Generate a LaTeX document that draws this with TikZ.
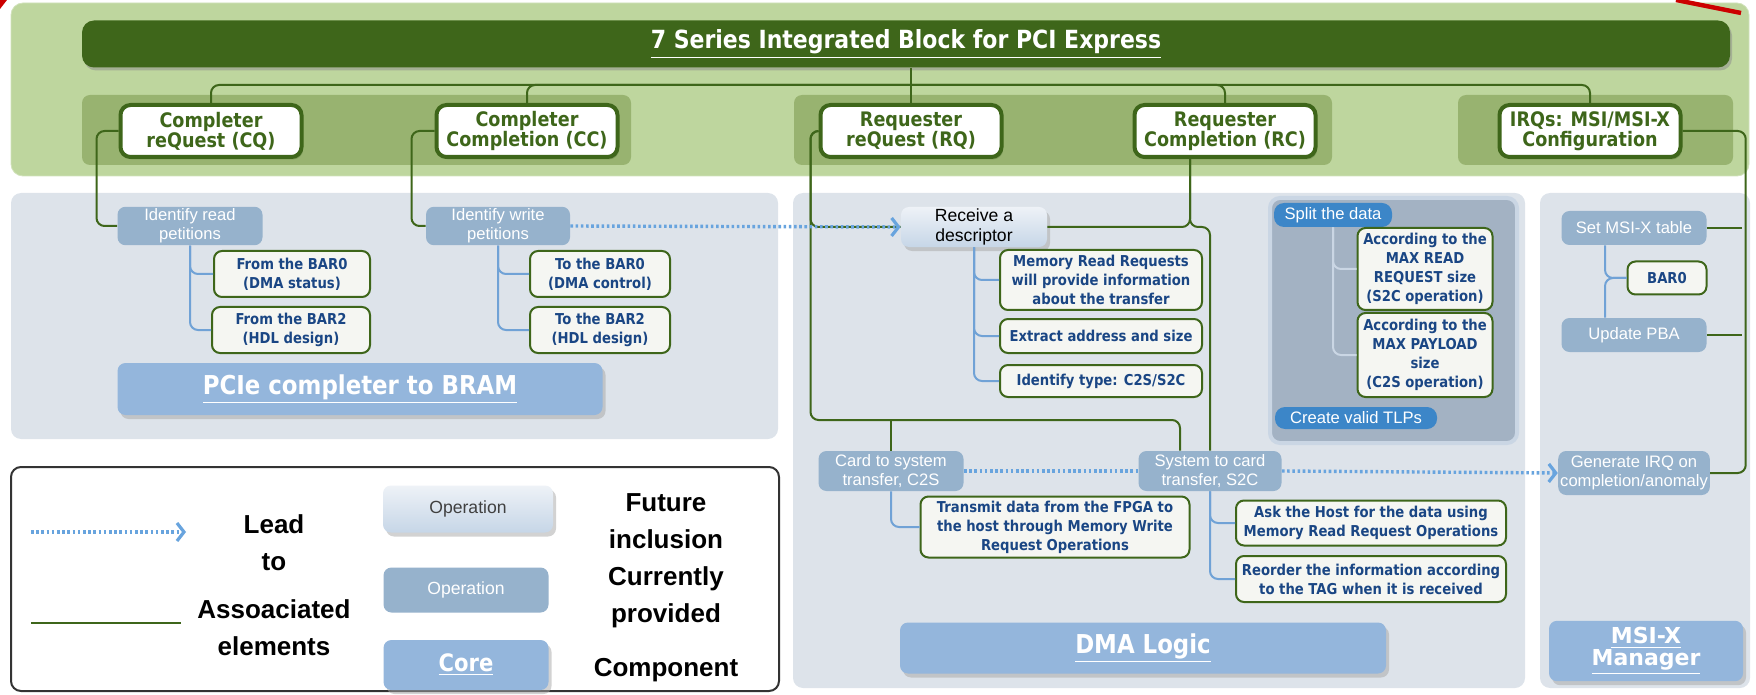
\documentclass[tikz,border=0pt]{standalone}
\usepackage{fontspec}
\setmainfont{Liberation Sans}
\newfontfamily\vfont[FakeStretch=0.88]{DejaVu Sans}
\newfontfamily\wfont{DejaVu Sans}
\usetikzlibrary{arrows.meta,shadows}

\definecolor{bandgreen}{RGB}{190,214,158}
\definecolor{subgreen}{RGB}{152,179,112}
\definecolor{dkgreen}{RGB}{62,102,26}
\definecolor{panelgray}{RGB}{221,227,234}
\definecolor{opblue}{RGB}{150,178,204}
\definecolor{coreblue}{RGB}{148,182,220}
\definecolor{txtblue}{RGB}{26,70,132}
\definecolor{lnblue}{RGB}{112,162,214}
\definecolor{dotblue}{RGB}{104,164,222}
\definecolor{splitbg}{RGB}{163,178,195}
\definecolor{splitbd}{RGB}{202,214,228}
\definecolor{tlpblue}{RGB}{60,134,200}
\definecolor{futtop}{RGB}{238,242,247}
\definecolor{futbot}{RGB}{198,214,231}
\definecolor{boxwhite}{RGB}{245,246,242}

\tikzset{
  gline/.style={draw=dkgreen,line width=1pt,rounded corners=4pt},
  bline/.style={draw=lnblue,line width=1pt,rounded corners=4pt},
  sline/.style={draw=splitbd,line width=1pt,rounded corners=4pt},
  leadto/.style={draw=dotblue,line width=1.7pt,dash pattern=on 1.3pt off 1.3pt,
    -{Straight Barb[length=3.5pt,width=9pt,line width=1.6pt]}},
  titlebar/.style={fill=dkgreen,rounded corners=6pt,text=white,
    minimum width=824pt,minimum height=23.5pt,
    font=\vfont\bfseries\fontsize{12.5}{13}\selectfont,
    drop shadow={shadow xshift=1pt,shadow yshift=-1.5pt,fill=black!45}},
  topbox/.style={draw=dkgreen,line width=2pt,fill=white,rounded corners=5pt,
    align=center,inner sep=1pt,text=dkgreen,
    font=\vfont\bfseries\fontsize{10}{10}\selectfont,
    minimum width=90.5pt,minimum height=26pt,
    drop shadow={shadow xshift=0.8pt,shadow yshift=-1.2pt,fill=dkgreen!80}},
  opbox/.style={fill=opblue,rounded corners=4pt,text=white,align=center,
    inner sep=1pt,font=\fontsize{8.3}{9.5}\selectfont},
  futbox/.style={top color=futtop,bottom color=futbot,rounded corners=4pt,
    align=center,inner sep=1pt,font=\fontsize{8.8}{9.8}\selectfont,
    drop shadow={shadow xshift=1.5pt,shadow yshift=-2pt,fill=black!35}},
  txtbox/.style={draw=dkgreen,line width=1pt,fill=boxwhite,rounded corners=4pt,
    text=txtblue,align=center,inner sep=1pt,
    font=\vfont\bfseries\fontsize{7.5}{9.5}\selectfont},
  corebox/.style={fill=coreblue,rounded corners=4pt,text=white,align=center,
    font=\vfont\bfseries\fontsize{13}{13}\selectfont,
    drop shadow={shadow xshift=1.5pt,shadow yshift=-2pt,fill=black!35}},
  lgtext/.style={align=center,font=\bfseries\fontsize{13}{18.5}\selectfont},
}

\begin{document}
\begin{tikzpicture}[x=0.5pt,y=-0.5pt]
  \useasboundingbox (0,0) rectangle (1756,695);
  %%% PCIe block
  % the band
  \draw[fill=bandgreen,draw=bandgreen!70!white,rounded corners=6pt] (11,3) rectangle (1749,176);
  \foreach \xa/\xb in {82/631,794/1332,1458/1733}
    \fill[subgreen,rounded corners=4pt] (\xa,95) rectangle (\xb,165);
  \node[titlebar] (title) at (906,44) {\underline{7 Series Integrated Block for PCI Express}};
  %% the interfaces
  \node[topbox] (cq) at (211,131) {Completer\\reQuest (CQ)};
  \node[topbox] (cc) at (527,131) {Completer\\Completion (CC)};
  \node[topbox] (rq) at (911,131) {Requester\\reQuest (RQ)};
  \node[topbox] (rc) at (1225,131) {Requester\\Completion (RC)};
  \node[topbox] (irq) at (1590,131) {IRQs: MSI/MSI-X\\Configuration};

  %%% the panels
  \foreach \xa/\ya/\xb/\yb in {11/193/778/439,793/193/1525/688,1540/193/1750/688}
    \fill[panelgray,rounded corners=5pt] (\xa,\ya) rectangle (\xb,\yb);
  \draw[fill=white,draw=black!80,line width=1pt,rounded corners=5pt] (11,467) rectangle (779,691);
  \draw[fill=splitbg,draw=splitbd,line width=2pt,rounded corners=5pt] (1270,198) rectangle (1517,443);

  %% completer to BRAM
  \node[opbox,minimum width=72.5pt,minimum height=19pt] (rdop) at (190,226) {Identify read\\petitions};
  \node[opbox,minimum width=72pt,minimum height=19pt] (wrop) at (498,226) {Identify write\\petitions};
  \node[txtbox,minimum width=78pt,minimum height=23pt] (bar0r) at (292,274) {From the BAR0\\(DMA status)};
  \node[txtbox,minimum width=79pt,minimum height=23pt] (bar2r) at (291,330) {From the BAR2\\(HDL design)};
  \node[txtbox,minimum width=70pt,minimum height=23pt] (to0) at (600,274) {To the BAR0\\(DMA control)};
  \node[txtbox,minimum width=70pt,minimum height=23pt] (to2) at (600,330) {To the BAR2\\(HDL design)};
  \node[corebox,minimum width=242.5pt,minimum height=26pt] (bram) at (360,389) {\underline{PCIe completer to BRAM}};

  %% DMA logic
  \node[futbox,minimum width=73pt,minimum height=20pt] (rcv) at (974,227) {Receive a\\descriptor};
  \node[txtbox,minimum width=101pt,minimum height=30pt] (mrr) at (1101,280) {Memory Read Requests\\will provide information\\about the transfer};
  \node[txtbox,minimum width=101pt,minimum height=17pt] (ext) at (1101,336) {Extract address and size};
  \node[txtbox,minimum width=101pt,minimum height=16pt] (idt) at (1101,381) {Identify type: C2S/S2C};
  \node[opbox,fill=tlpblue,rounded corners=5pt,minimum width=59pt,minimum height=12pt] (split) at (1333,215) {Split the data};
  \node[txtbox,minimum width=67.5pt,minimum height=41pt] (rdsz) at (1425,269) {According to the\\MAX READ\\REQUEST size\\(S2C operation)};
  \node[txtbox,minimum width=67.5pt,minimum height=42pt] (plsz) at (1425,355) {According to the\\MAX PAYLOAD\\size\\(C2S operation)};
  \node[opbox,fill=tlpblue,rounded corners=5pt,minimum width=81pt,minimum height=11pt] (tlp) at (1356,418) {Create valid TLPs};
  \node[opbox,minimum width=72.5pt,minimum height=20pt] (c2s) at (891,471) {Card to system\\transfer, C2S};
  \node[opbox,minimum width=71.5pt,minimum height=20pt] (s2c) at (1210,471) {System to card\\transfer, S2C};
  \node[txtbox,minimum width=134.5pt,minimum height=30.5pt] (tx) at (1055,527) {Transmit data from the FPGA to\\the host through Memory Write\\Request Operations};
  \node[txtbox,minimum width=135pt,minimum height=22.5pt] (ask) at (1371,523) {Ask the Host for the data using\\Memory Read Request Operations};
  \node[txtbox,minimum width=135pt,minimum height=23pt] (ro) at (1371,579) {Reorder the information according\\to the TAG when it is received};
  \node[corebox,minimum width=243pt,minimum height=25.5pt] (dma) at (1143,648) {\underline{DMA Logic}};

  %% MSI-X manager
  \node[opbox,minimum width=72.5pt,minimum height=17pt] (set) at (1634,228) {Set MSI-X table};
  \node[txtbox,minimum width=39.5pt,minimum height=16.5pt] (bar0m) at (1667,278) {BAR0};
  \node[opbox,minimum width=72.5pt,minimum height=17pt] (pba) at (1634,335) {Update PBA};
  \node[opbox,minimum width=72.5pt,minimum height=22pt] (gen) at (1634,473) {Generate IRQ on\\completion/anomaly};
  \node[corebox,font=\wfont\bfseries\fontsize{11}{11}\selectfont,minimum width=97pt,minimum height=29pt] (msix) at (1646,651) {\underline{MSI-X}\\\underline{Manager}};

  %%% connectors
  % green tree of the block
  \coordinate (bus) at (907,85);
  \draw[gline] (title.south -| rq.north) -- (rq.north);
  \draw[gline] (cq.north) |- (bus) -| (irq.north);
  \draw[gline] (cc.north) |- (bus);
  \draw[gline] (rc.north) |- (bus);
  \draw[gline] (cq.west) -- ++(-22,0) |- (rdop.west);
  \draw[gline] (cc.west) -- ++(-23,0) |- (wrop.west);
  \coordinate (rqend) at (1180,420);
  \draw[gline] (rq.west) -- ++(-8,0) |- (rcv.west);
  \draw[gline] (rq.west) -- ++(-8,0) |- (rqend) -- (rqend |- s2c.north);
  \draw[gline] (c2s.north) -- (c2s.north |- rqend);
  \draw[gline] ([xshift=-17.5pt]rc.south) |- (rcv.east);
  \draw[gline] ([xshift=-17.5pt]rc.south) |- (s2c.north |- rcv.east) -- (s2c.north);
  \draw[gline] (irq.east) -| ([xshift=17.75pt]gen.east) -- (gen.east);
  \draw[gline] (set.east) -- ([xshift=17.75pt]set.east);
  \draw[gline] (pba.east) -- ([xshift=17.75pt]pba.east);
  % blue links
  \foreach \a/\b in {rdop/bar0r,rdop/bar2r,wrop/to0,wrop/to2,rcv/mrr,rcv/ext,rcv/idt,c2s/tx,s2c/ask,s2c/ro}
    \draw[bline] (\a.south) |- (\b.west);
  \draw[sline] (split.south) |- (rdsz.west);
  \draw[sline] (split.south) |- (plsz.west);
  \draw[bline] ([xshift=-14.5pt]set.south) |- (bar0m.west);
  \draw[bline] ([xshift=-14.5pt]pba.north) |- (bar0m.west);
  % lead to
  \draw[leadto] (wrop.east) -- (rcv.west);
  \draw[leadto,-] (c2s.east) -- (s2c.west);
  \draw[leadto] (s2c.east) -- (gen.west);

  %%% legend
  \coordinate (la) at (31,532);
  \coordinate (lb) at (186,532);
  \coordinate (lc) at (31,623);
  \coordinate (ld) at (181,623);
  \draw[leadto] (la) -- (lb);
  \draw[gline] (lc) -- (ld);
  \node[lgtext] (lead) at (274,543) {Lead\\to};
  \node[lgtext] (assoc) at (274,628) {Assoaciated\\elements};
  \node[futbox,text=black!75,minimum width=85pt,minimum height=23.5pt] (lgfut) at (468,509) {Operation};
  \node[opbox,font=\fontsize{8.8}{9.8}\selectfont,minimum width=82.5pt,minimum height=22.5pt] (lgcur) at (466,590) {Operation};
  \node[corebox,font=\vfont\bfseries\fontsize{12}{12}\selectfont,minimum width=82.5pt,minimum height=25pt] (lgcore) at (466,665) {\underline{Core}};
  \node[lgtext] (fut) at (666,521) {Future\\inclusion};
  \node[lgtext] (cur) at (666,597) {Currently\\provided};
  \node[lgtext] (comp) at (666,670) {Component};

  % red marks
  \draw[red!80!black,line width=2.2pt] (1676,0) -- (1741,13);
  \fill[red!80!black] (0,0) -- (7,0) -- (0,9) -- cycle;
\end{tikzpicture}
\end{document}
